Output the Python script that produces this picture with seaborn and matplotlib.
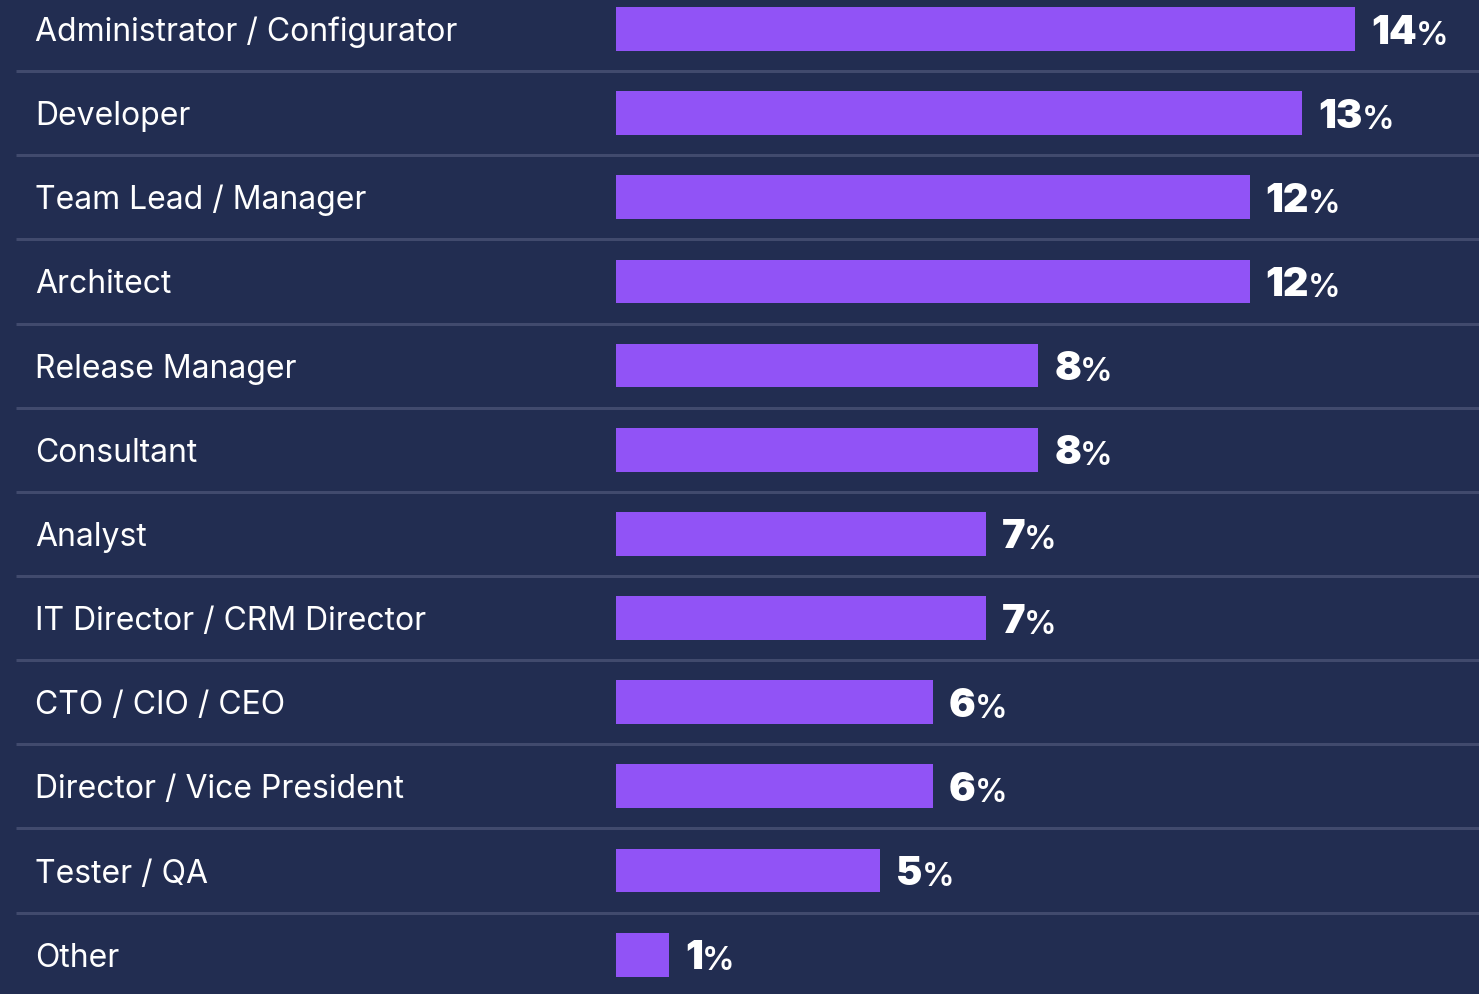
import matplotlib
matplotlib.use("Agg")
import matplotlib.pyplot as plt
import seaborn as sns
import pandas as pd

roles = [
    "Administrator / Configurator",
    "Developer",
    "Team Lead / Manager",
    "Architect",
    "Release Manager",
    "Consultant",
    "Analyst",
    "IT Director / CRM Director",
    "CTO / CIO / CEO",
    "Director / Vice President",
    "Tester / QA",
    "Other",
]
shares = [14, 13, 12, 12, 8, 8, 7, 7, 6, 6, 5, 1]

BG = "#222d51"
BAR = "#9153f6"
RULE = "#414a6d"
FG = "#ffffff"

sns.set_theme(style="white")
plt.rcParams["font.family"] = ["Inter", "DejaVu Sans"]

W, H, DPI = 1479, 994, 100
fig = plt.figure(figsize=(W / DPI, H / DPI), dpi=DPI, facecolor=BG)
ax = fig.add_axes([0, 0, 1, 1])
ax.set_facecolor(BG)

df = pd.DataFrame({"role": roles, "share": shares})
sns.barplot(data=df, x="share", y="role", orient="h", color=BAR,
            saturation=1, width=0.52, linewidth=0, ax=ax)

# horizontal scale: bars start at pixel 616, ~52.8 px per percent
x0_px, px_per_unit = 616, 52.8
ax.set_xlim(-x0_px / px_per_unit, (W - x0_px) / px_per_unit)
# rows are ~84 px apart, first row centred at 29 px
row_px, first_px = 84.15, 29
ax.set_ylim((H - first_px) / row_px, -first_px / row_px)

ax.set_axis_off()

# separators between rows
seps = [i + 0.5 for i in range(len(roles) - 1)]
ax.hlines(seps, 16 / W, 1, transform=ax.get_yaxis_transform(),
          color=RULE, linewidth=2.2)

# row labels on the left
for i, r in enumerate(roles):
    ax.annotate(r, xy=(0, i), xycoords=("figure pixels", "data"),
                xytext=(35, -12), textcoords="offset pixels",
                ha="left", va="baseline", color=FG, fontsize=23)

# value labels: heavy digits followed by a smaller percent sign
for i, v in enumerate(shares):
    t = ax.annotate(str(v), xy=(v, i), xytext=(16, -14.5),
                    textcoords="offset pixels", ha="left", va="baseline",
                    color=FG, fontsize=28.5, fontweight="black")
    ax.annotate("%", xy=(1, 0), xycoords=t, xytext=(-1, 0),
                textcoords="offset pixels", ha="left", va="bottom",
                color=FG, fontsize=23.5, fontweight="semibold")

fig.savefig("out.png", dpi=DPI, facecolor=BG)
